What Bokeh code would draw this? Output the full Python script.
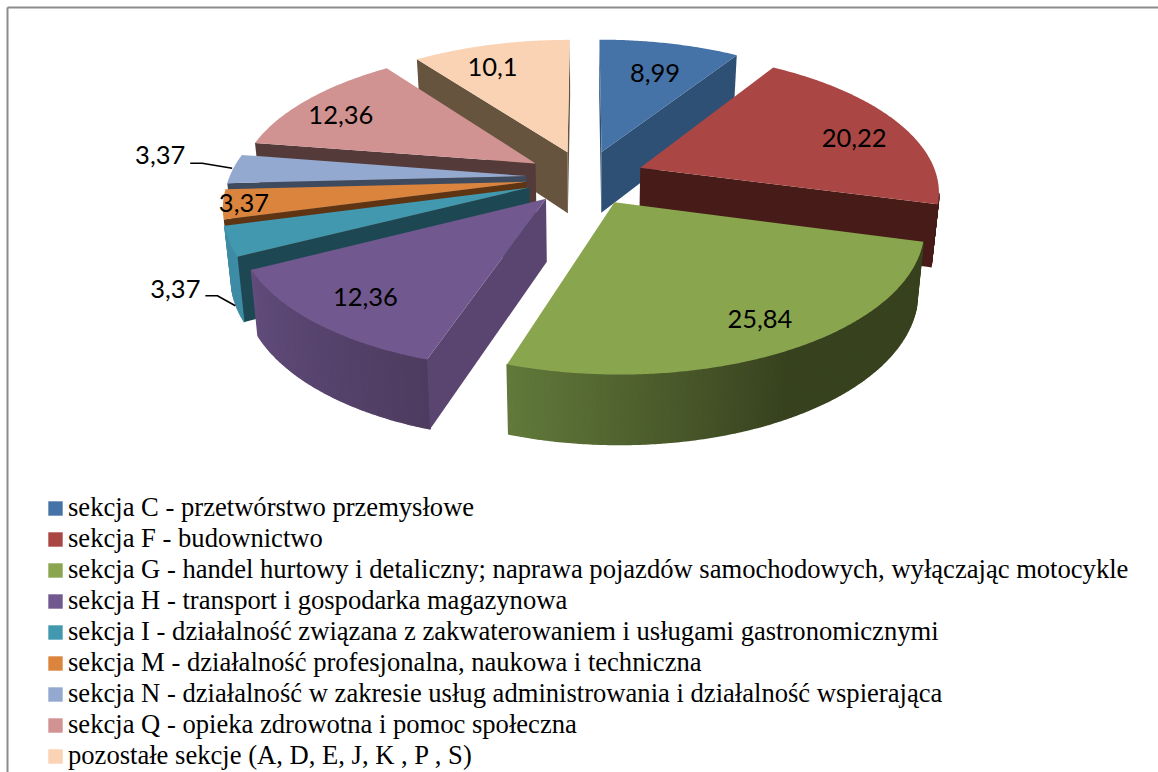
import math
from bokeh.plotting import figure
from bokeh.models import Range1d, Legend, LegendItem
from bokeh.core.properties import value
from bokeh.embed import file_html
from bokeh.resources import INLINE

# ---- data ----
CATEGORIES = [
    "sekcja C - przetwórstwo przemysłowe",
    "sekcja F - budownictwo",
    "sekcja G - handel hurtowy i detaliczny; naprawa pojazdów samochodowych, wyłączając motocykle",
    "sekcja H - transport i gospodarka magazynowa",
    "sekcja I - działalność związana z zakwaterowaniem i usługami gastronomicznymi",
    "sekcja M - działalność profesjonalna, naukowa i techniczna",
    "sekcja N - działalność w zakresie usług administrowania i działalność wspierająca",
    "sekcja Q - opieka zdrowotna i pomoc społeczna",
    "pozostałe sekcje (A, D, E, J, K , P , S)",
]
VALUES = [8.99, 20.22, 25.84, 12.36, 3.37, 3.37, 3.37, 12.36, 10.1]
LABELS = ["8,99", "20,22", "25,84", "12,36", "3,37", "3,37", "3,37", "12,36", "10,1"]

# ---- styles ----
TOP = ["#4573A7", "#AA4643", "#89A54E", "#71588F", "#4198AF", "#DB843D", "#93A9CF", "#D19392", "#FAD2B4"]
RADIAL = ["#2F5075", "#471B18", "#3A4A22", "#5A4570", "#1D4853", "#5E3413", "#3E4A5E", "#553A3A", "#66543F"]
OUTER = [("#2F5075", "#2F5075"), ("#6B2B29", "#471B18"), ("#38421F", "#627A3B"), ("#4E3C60", "#614C7B"),
         ("#3F8CA5", "#3F8CA5"), None, None, ("#845D5C", "#845D5C"), ("#9E8672", "#9E8672")]
OUTER_BREAK = [0, 0, 0.5, 0, 0, 0, 0, 0, 0]
DRAW_ORDER = [8, 0, 1, 2, 7, 6, 5, 4, 3]
LABEL_OFFSET = [(7, -5), (44, 1), (39, 26), (-38, 21), (-163, 67), (-87, 7), (-175, -16), (-43, -6), (-23, -12)]
LEADERS = {4: [(30, 7), (42, 7), (60, 17)], 6: [(30, 8), (42, 8), (72, 13)]}

CX, CY, A, B, K, H, EXPLODE = 585, 177, 297, 137, 0.155, 62, 0.2


def proj(X, Y, z=0):
    s = 1 / (1 + K * Y)
    return CX + A * X * s * (1 - 0.02 * z), CY - B * Y * s + H * s ** 0.6 * z


def hex2rgb(c):
    return [int(c[i:i + 2], 16) for i in (1, 3, 5)]


def lerp(c0, c1, t):
    a, b = hex2rgb(c0), hex2rgb(c1)
    return "#%02x%02x%02x" % tuple(round(a[i] + (b[i] - a[i]) * t) for i in range(3))


p = figure(width=1158, height=772, output_backend="svg", toolbar_location=None,
           x_range=Range1d(0, 1158), y_range=Range1d(772, 0),
           x_axis_type=None, y_axis_type=None, min_border=0, outline_line_color=None)
p.grid.visible = False

# chart frame
p.line([7, 7], [772, 7], line_color="#8C8C8C", line_width=2)
p.line([7, 1158], [7, 7], line_color="#8C8C8C", line_width=2)

total = sum(VALUES)
starts, acc = [], 0.0
for v in VALUES:
    starts.append(acc)
    acc += v / total * 360

legend_renderers = {}
anchors = {}
for i in DRAW_ORDER:
    t0, t1 = starts[i], starts[i] + VALUES[i] / total * 360
    m = math.radians((t0 + t1) / 2)
    ex, ey = EXPLODE * math.sin(m), EXPLODE * math.cos(m)
    anchors[i] = proj(0.85 * math.sin(m), 0.85 * math.cos(m))
    n = max(3, int((t1 - t0) * 2))
    th = [math.radians(t0 + (t1 - t0) * j / n) for j in range(n + 1)]
    rim = [(ex + math.sin(a), ey + math.cos(a)) for a in th]

    # outer wall, only the quads that face the viewer
    qx, qy, qc = [], [], []
    if OUTER[i]:
        for j in range(n):
            a, b = proj(*rim[j]), proj(*rim[j + 1])
            if b[0] < a[0]:
                a2, b2 = proj(*rim[j], 1), proj(*rim[j + 1], 1)
                qx.append([a[0], b[0], b2[0], a2[0]])
                qy.append([a[1], b[1], b2[1], a2[1]])
                f = OUTER_BREAK[i]
                qc.append(lerp(OUTER[i][0], OUTER[i][1], max(0.0, (j / n - f) / (1 - f))))
    if qx:
        p.patches(qx, qy, fill_color=qc, line_color=qc, line_width=1.5)

    # radial walls
    apex = proj(ex, ey)
    apex2 = proj(ex, ey, 1)
    r0, r1 = proj(*rim[0]), proj(*rim[-1])
    if r0[0] < apex[0]:
        b0 = proj(*rim[0], 1)
        p.patch([apex[0], r0[0], b0[0], apex2[0]], [apex[1], r0[1], b0[1], apex2[1]],
                fill_color=RADIAL[i], line_color=None)
    if r1[0] > apex[0]:
        b1 = proj(*rim[-1], 1)
        p.patch([apex[0], r1[0], b1[0], apex2[0]], [apex[1], r1[1], b1[1], apex2[1]],
                fill_color=RADIAL[i], line_color=None)

    # top
    pts = [proj(ex, ey)] + [proj(*q) for q in rim]
    legend_renderers[i] = p.patch([q[0] for q in pts], [q[1] for q in pts],
                                  fill_color=TOP[i], line_color=None)

lx = [anchors[i][0] + LABEL_OFFSET[i][0] for i in range(len(VALUES))]
ly = [anchors[i][1] + LABEL_OFFSET[i][1] for i in range(len(VALUES))]
for i, pts in LEADERS.items():
    p.line([lx[i] + q[0] for q in pts], [ly[i] + q[1] for q in pts], line_color="black", line_width=1.5)
p.text(lx, ly, text=LABELS, text_font=value("Lato"), text_font_size="25.5px", text_color="black",
       text_align="center", text_baseline="middle")

legend = Legend(
    items=[LegendItem(label=c, renderers=[legend_renderers[i]]) for i, c in enumerate(CATEGORIES)],
    location=(46, 1), orientation="vertical",
    label_text_font="Liberation Serif", label_text_font_size="26.6px", label_text_color="black",
    glyph_width=18, glyph_height=18, label_standoff=4, spacing=0, padding=0, margin=0,
    border_line_color=None, background_fill_alpha=0, label_height=29,
)
p.add_layout(legend, "center")

open("out.html", "w").write(file_html(p, INLINE))
